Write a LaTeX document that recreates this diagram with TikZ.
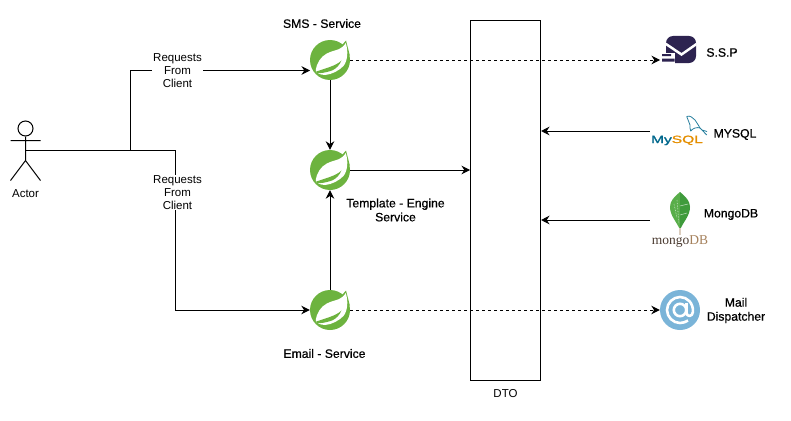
\documentclass[tikz,border=0pt]{standalone}
\usepackage{fontspec}
\setmainfont{Liberation Sans}
\newfontfamily\logoserif{Liberation Serif}
\newfontfamily\captionfont[FakeBold=0.6]{Liberation Sans}
\newfontfamily\logosans[FakeBold=1.2]{Liberation Sans}
\usetikzlibrary{arrows.meta, positioning}
\definecolor{SpringGreen}{HTML}{6DB33F}
\definecolor{SspPurple}{HTML}{2D2350}
\definecolor{MailBlue}{HTML}{7AB4D8}
\definecolor{MysqlBlue}{HTML}{00678C}
\definecolor{MysqlOrange}{HTML}{E48E00}
\definecolor{MongoDark}{HTML}{3F9B3C}
\definecolor{MongoLight}{HTML}{59AE4A}
\definecolor{MongoText}{HTML}{4A3A30}
\definecolor{MongoTan}{HTML}{A5815C}
\tikzset{
	every node/.style={font=\fontsize{11.5}{13}\selectfont},
	flow/.style={draw=black, line width=1pt, -{Stealth[length=8.5pt, width=8.5pt]}},
	dashflow/.style={flow, dash pattern=on 3pt off 3pt},
	wire/.style={draw=black, line width=1pt},
	caption/.style={align=center, inner sep=0pt, font=\fontsize{12.2}{14}\captionfont},
	plain/.style={align=center, inner sep=0pt},
	edgetext/.style={plain, fill=white, inner xsep=1pt},
	springicon/.style={circle, fill=SpringGreen, inner sep=0pt, minimum size=40pt},
	iconbox/.style={inner sep=0pt},
	springleaf/.pic={
		\fill[SpringGreen] (12,-15) -- (16,-19.5) -- (20,-4) -- cycle;
		\fill[white] (15.7,-17) .. controls (12,-10.5) and (6,-10) .. (1.5,-8.5)
			.. controls (-5,-6.5) and (-10.5,-2) .. (-13,5)
			.. controls (-14,8) and (-14.5,10) .. (-14,12)
			.. controls (-10,14.5) and (-8,15) .. (-5,15)
			.. controls (2,14.5) and (9,10.5) .. (13.5,6)
			.. controls (17.5,1) and (18.5,-9) .. (15.7,-17) -- cycle;
		\fill[SpringGreen] (11.5,0.5) .. controls (6,6) and (-4,8) .. (-15,12)
			.. controls (-12,14.5) and (-4,12.5) .. (2,10.5)
			.. controls (6.5,8.5) and (9.5,5) .. (11.5,0.5) -- cycle;
	},
	mongoleaf/.pic={
		\fill[MongoLight] (0,-20) .. controls (-6,-15) and (-10,-11) .. (-10,-5)
			.. controls (-10,4) and (-3,10) .. (0,18) -- cycle;
		\fill[MongoDark] (0,-20) .. controls (6,-15) and (10,-11) .. (10,-5)
			.. controls (10,4) and (3,10) .. (0,18) -- cycle;
		\draw[white!75!MongoLight, densely dotted, line width=.6pt] (-3,-12) -- (-1,12) (-6,-8) -- (-3,6);
		\draw[white!65!MongoDark, line width=.5pt] (0,-6) -- (8,-8) (0,3) -- (7,1);
		\draw[white!60!MongoTan, line width=1.5pt] (0,16) -- (0,23);
	},
	dolphin/.pic={
		\draw[MysqlBlue!85, line width=.8pt, line join=round] (-9.3,-9.5) .. controls (-6,-11) and (-3,-8) .. (-1,-6)
			.. controls (1,-3) and (3,0) .. (4,2) -- (10.7,9)
			(-9.3,-9.5) .. controls (-9,-6) and (-6,-4) .. (-6,-1)
			.. controls (-6,2) and (-6,3) .. (-5.3,5)
			.. controls (-3,2) and (1,1) .. (4,2)
			(6,4) -- (11,5.5);
	},
	atsign/.pic={
		\draw[white, line width=2.6pt] (0,0) circle (6.2pt);
		\draw[white, line width=2.6pt, line join=round] (6.5,-7) -- (6.5,3)
			.. controls (6.5,7) and (12.7,7) .. (12.9,2)
			.. controls (13.6,-7) and (7,-13) .. (0,-13)
			.. controls (-7,-13) and (-13,-7) .. (-13,0)
			.. controls (-13,7) and (-7,13) .. (0,13)
			.. controls (3,13) and (5.5,12) .. (8,10.5);
	},
	mailflap/.pic={
		\fill[white] (-16,-8) -- (1,3.5) -- (16,-7) -- (16,-4) -- (1,6.5) -- (-16,-5) -- cycle;
		\fill[white] (-21,3.5) rectangle (-5.5,14.5);
		\fill[SspPurple] (-18.5,4.5) rectangle (-9.5,6.5) (-18.5,9) rectangle (-6,12);
	},
}
\begin{document}
\begin{tikzpicture}[x=1pt, y=-1pt]
	\useasboundingbox (0,0) rectangle (791,420);

	% actor
	\node[circle, draw, line width=1pt, inner sep=0pt, minimum size=15pt] (head) at (25.5,128.5) {};
	\coordinate (hip) at (25.5,160.5);
	\coordinate (waist) at (25.5,150.5);
	\draw[wire] (head) -- (hip) (10.5,140.5) -- (40.5,140.5) (10.5,180.5) -- (hip) -- (40.5,180.5);
	\node[plain] (actor) at (25.5,193.5) {Actor};

	% services
	\node[springicon] (sms) at (330,60) {};
	\node[springicon] (engine) at (330,170) {};
	\node[springicon] (email) at (330,310) {};
	\foreach \svc in {sms, engine, email}
		\pic at (\svc) {springleaf};
	\coordinate (smsin) at (310,70.5);
	\node[caption] (smstext) at (322,23.5) {SMS - Service};
	\node[caption] (enginetext) at (395.5,210) {Template - Engine\\Service};
	\node[caption] (emailtext) at (324.5,353.5) {Email - Service};

	\node[draw, line width=1pt, inner sep=0pt, minimum width=70pt, minimum height=360pt] (dto) at (505.5,200.5) {};
	\node[plain] (dtotext) at (505.5,394) {DTO};

	% outside systems
	\node[rounded corners=7pt, fill=SspPurple, inner sep=0pt, minimum width=30pt, minimum height=27pt] (sspbody) at (681,49.5) {};
	\coordinate (ssp) at (660,60);
	\pic at (680.5,49.5) {mailflap};
	\node[caption] (ssptext) at (722,52.5) {S.S.P};

	\node[iconbox, minimum width=56pt, minimum height=30pt] (mysql) at (678,131) {};
	\node[iconbox, anchor=base, font=\fontsize{10.5}{10.5}\logosans, xscale=1.48, transform shape] (mysqllogo) at (677,143) {\textcolor{MysqlBlue}{My}\textcolor{MysqlOrange}{SQL}};
	\pic at (696,126) {dolphin};
	\node[caption] (mysqltext) at (735,134.5) {MYSQL};

	\node[iconbox, minimum width=60pt, minimum height=50pt] (mongo) at (680,220) {};
	\pic at (680,212) {mongoleaf};
	\node[iconbox, anchor=base, font=\fontsize{13.5}{13.5}\logoserif] (mongologo) at (680,244.5) {\textcolor{MongoText}{mongo}\textcolor{MongoTan}{DB}};
	\node[caption] (mongotext) at (731,214.5) {MongoDB};

	\node[circle, fill=MailBlue, inner sep=0pt, minimum size=40pt] (mail) at (680,310) {};
	\pic at (680,310) {atsign};
	\node[caption] (mailtext) at (736,310.5) {Mail\\Dispatcher};

	% connectors
	\coordinate (split) at (130.5,150.5);
	\coordinate (turn) at (175.5,150.5);
	\draw[wire] (waist) -- (turn);
	\path[flow] (split) |- (smsin);
	\path[flow] (turn) |- (email.west);
	\node[edgetext] (reqtop) at (177.5,70.5) {Requests\\From\\Client};
	\node[edgetext] (reqbottom) at (177.5,192.5) {Requests\\From\\Client};
	\path[flow] (sms) -- (engine);
	\path[flow] (email) -- (engine);
	\path[flow] (engine) -- (dto.west |- engine);
	\path[dashflow] (sms) -- (ssp);
	\path[dashflow] (email) -- (mail);
	\path[flow] (mysql) -- (dto.east |- mysql);
	\path[flow] (mongo) -- (dto.east |- mongo);
\end{tikzpicture}
\end{document}
